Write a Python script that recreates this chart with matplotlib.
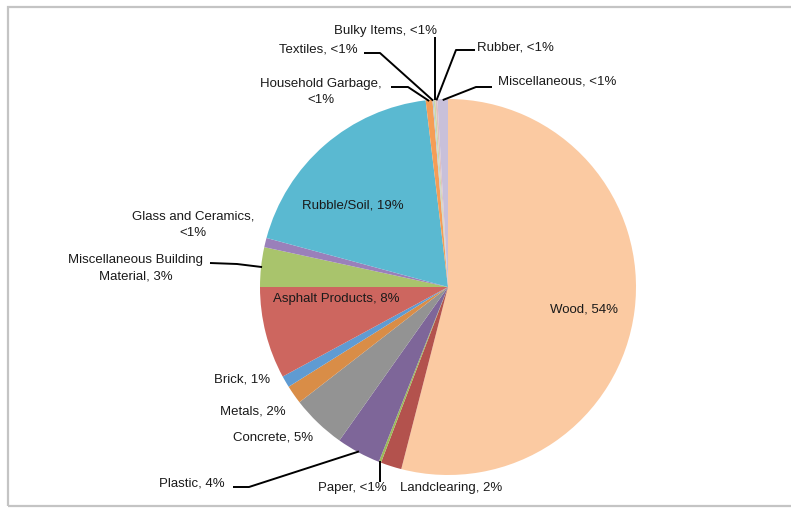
import numpy as np
import matplotlib.pyplot as plt
from matplotlib.patches import Rectangle

plt.rcParams['font.family'] = ['Liberation Sans', 'DejaVu Sans']

# composition of the waste stream, clockwise from 12 o'clock (percent)
materials = ['Wood', 'Landclearing', 'Paper', 'Plastic', 'Concrete', 'Metals',
             'Brick', 'Asphalt Products', 'Miscellaneous Building\nMaterial',
             'Glass and Ceramics,\n<1%', 'Rubble/Soil', 'Household Garbage,\n<1%',
             'Textiles', 'Bulky Items', 'Rubber', 'Miscellaneous']
shares = [54.0, 1.8, 0.2, 3.8, 4.7, 1.6, 1.0, 7.9, 3.4, 0.8, 18.9,
          0.58, 0.1, 0.15, 0.17, 0.9]
share_text = ['54%', '2%', '<1%', '4%', '5%', '2%', '1%', '8%', '3%', '', '19%',
              '', '<1%', '<1%', '<1%', '<1%']
colors = ['#FBCAA2', '#B3524D', '#9BBB59', '#7E6699', '#939393', '#D98D47',
          '#5F9BD2', '#CD665F', '#A9C46C', '#9A80BA', '#5AB9D1', '#F59D56',
          '#B6C8DD', '#C9D9A8', '#E0C0BF', '#C8C0DA']

W, H = 791, 508
cx, cy, R = 448, H - 287, 188

fig = plt.figure(figsize=(W / 100, H / 100), dpi=100)
ax = fig.add_axes([0, 0, 1, 1])
ax.pie(shares, colors=colors, startangle=90, counterclock=False,
       radius=R, center=(cx, cy), wedgeprops=dict(linewidth=0))
ax.set_xlim(0, W)
ax.set_ylim(0, H)
ax.set_aspect('equal')
ax.axis('off')

# mid angle of each wedge, measured clockwise from the top
cum = np.cumsum(shares)
mid = (cum - np.array(shares) / 2) / sum(shares) * 2 * np.pi


def edge_point(i, r=R):
    return cx + r * np.sin(mid[i]), cy + r * np.cos(mid[i])


def label(i):
    name = materials[i]
    if share_text[i]:
        return f'{name}, {share_text[i]}'
    return name


# label positions in pixels from top-left: (x, y, elbow points for leader)
# an elbow x of None means straight up/down from the wedge edge
layout = {
    0: (584, 310, None),
    1: (451, 488, None),
    2: (352, 488, [(None, 482)]),
    3: (192, 484, [(249, 487), (233, 487)]),
    4: (273, 437, None),
    5: (253, 411, None),
    6: (242, 379, None),
    7: (336, 299, None),
    8: (136, 268, [(237, 264), (210, 263)]),
    9: (193, 225, None),
    10: (353, 206, None),
    11: (321, 92, [(408, 87), (391, 87)]),
    12: (318, 49, [(380, 53), (364, 53)]),
    13: (386, 31, [(None, 37)]),
    14: (515, 47, [(456, 50), (475, 50)]),
    15: (557, 82, [(476, 87), (492, 87)]),
}

for i, (tx, ty, elbows) in layout.items():
    ax.text(tx, H - ty, label(i), ha='center', va='center', fontsize=9.5,
            color='#1a1a1a', linespacing=1.45)
    if elbows:
        px, py = edge_point(i, R - 1)
        xs = [px] + [px if e[0] is None else e[0] for e in elbows]
        ys = [py] + [H - e[1] for e in elbows]
        ax.plot(xs, ys, color='black', lw=1.4, solid_capstyle='butt')

# light grey frame around the chart area
fig.patches.append(Rectangle((8 / W, 2 / H), (W + 20) / W, (H - 9) / H,
                             transform=fig.transFigure, fill=False,
                             edgecolor='#C4C4C4', lw=1.6))

fig.savefig('out.png', dpi=100)
